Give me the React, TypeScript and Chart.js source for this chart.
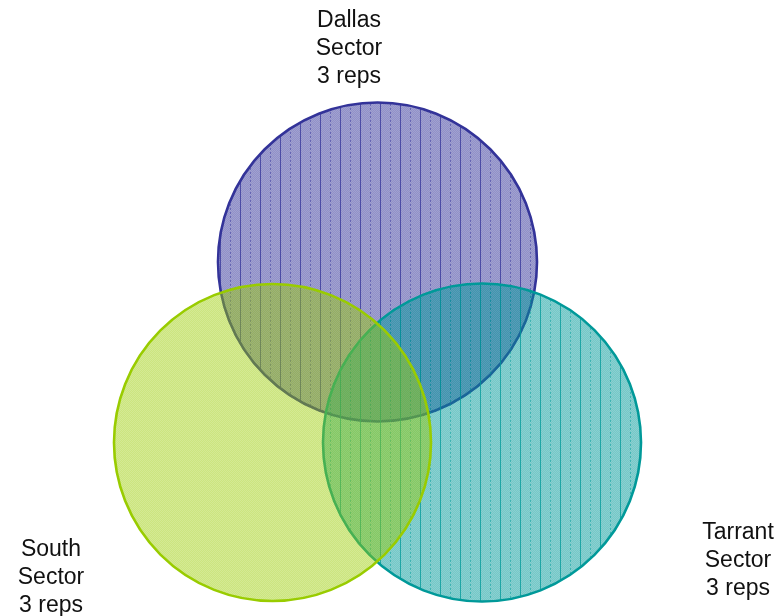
import React, { useEffect, useRef } from "react";
import { Chart, registerables } from "chart.js";

Chart.register(...registerables);

// Circle (set) data: centre x, centre y and radius (pixel radius of the bubble)
const setNames = ["Dallas Sector", "South Sector", "Tarrant Sector"];
const setCentersX = [377.5, 272.5, 482];
const setCentersY = [262, 442.5, 442.5];
const setRadii = [159.5, 158.5, 159];
const setLabelLines = [
  ["Dallas", "Sector", "3 reps"],
  ["South", "Sector", "3 reps"],
  ["Tarrant", "Sector", "3 reps"],
];
const labelX = [349, 51, 738];
const labelFirstBaseline = [27, 556, 539];

function makePattern(rgb: [number, number, number], a1: number, a2: number, stripes: boolean): CanvasPattern | string {
  const c = document.createElement("canvas");
  c.width = 20;
  c.height = 4;
  const ctx = c.getContext("2d")!;
  const [r, g, b] = rgb;
  for (let y = 0; y < 4; y++) {
    for (let x = 0; x < 20; x++) {
      ctx.fillStyle = `rgba(${r},${g},${b},${(x + y) % 2 === 0 ? a1 : a2})`;
      ctx.fillRect(x, y, 1, 1);
    }
  }
  if (stripes) {
    for (let y = 0; y < 4; y++) {
      ctx.clearRect(0, y, 1, 1);
      ctx.fillStyle = `rgba(${r},${g},${b},0.88)`;
      ctx.fillRect(0, y, 1, 1);
      if (y < 2) {
        ctx.clearRect(10, y, 1, 1);
        ctx.fillStyle = `rgba(${r},${g},${b},0.75)`;
        ctx.fillRect(10, y, 1, 1);
      }
    }
  }
  const p = ctx.createPattern(c, "repeat");
  return p || `rgba(${r},${g},${b},0.5)`;
}

export default function App() {
  const ref = useRef<HTMLCanvasElement | null>(null);
  useEffect(() => {
    if (!ref.current) return;
    const fills = [
      makePattern([51, 51, 153], 0.46, 0.54, true),
      makePattern([153, 204, 0], 0.42, 0.5, false),
      makePattern([0, 153, 153], 0.46, 0.54, true),
    ];
    const borders = ["#333399", "#99cc00", "#009999"];
    const orders = [3, 1, 2];

    const labelPlugin = {
      id: "vennLabels",
      afterDatasetsDraw(chart: any) {
        const ctx = chart.ctx;
        const xs = chart.scales.x;
        const ys = chart.scales.y;
        ctx.save();
        ctx.font = '23px "Liberation Sans", Arial, sans-serif';
        ctx.fillStyle = "#111111";
        ctx.textAlign = "center";
        ctx.textBaseline = "alphabetic";
        setLabelLines.forEach((lines, i) => {
          lines.forEach((t, j) => {
            ctx.fillText(t, xs.getPixelForValue(labelX[i]), ys.getPixelForValue(labelFirstBaseline[i] + j * 28));
          });
        });
        ctx.restore();
      },
    };

    const chart = new Chart(ref.current, {
      type: "bubble",
      data: {
        datasets: setNames.map((name, i) => ({
          label: name,
          data: [{ x: setCentersX[i], y: setCentersY[i], r: setRadii[i] }],
          backgroundColor: fills[i] as any,
          borderColor: borders[i],
          borderWidth: 2.6,
          hoverBorderWidth: 2.6,
          order: orders[i],
        })),
      },
      options: {
        animation: false,
        responsive: true,
        maintainAspectRatio: false,
        layout: { padding: 0, autoPadding: false },
        events: [],
        scales: {
          x: { type: "linear", min: 0, max: 780, display: false, grace: 0 },
          y: { type: "linear", min: 0, max: 616, reverse: true, display: false, grace: 0 },
        },
        plugins: {
          legend: { display: false },
          tooltip: { enabled: false },
        },
        clip: false as any,
      },
      plugins: [labelPlugin],
    });
    return () => chart.destroy();
  }, []);

  return (
    <div style={{ position: "fixed", left: 0, top: 0, width: 780, height: 616, background: "#ffffff" }}>
      <canvas ref={ref} />
    </div>
  );
}
